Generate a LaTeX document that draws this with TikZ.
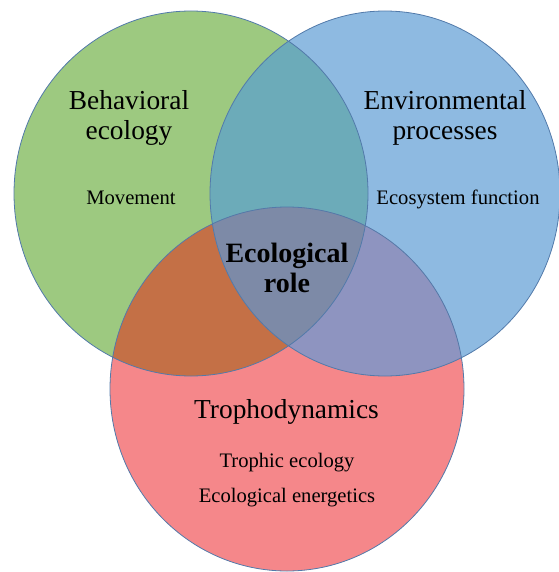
\documentclass[tikz,border=0pt]{standalone}
\usepackage{fontspec}
\setmainfont{Liberation Serif}
\usepackage{tikz}
\usetikzlibrary{positioning}

\definecolor{behfill}{RGB}{157,201,128}
\definecolor{envfill}{RGB}{142,186,225}
\definecolor{trofill}{RGB}{245,135,138}
\definecolor{behenv}{RGB}{108,171,185}
\definecolor{behtro}{RGB}{196,112,70}
\definecolor{envtro}{RGB}{142,148,192}
\definecolor{allsets}{RGB}{125,138,167}
\definecolor{rimcol}{RGB}{82,122,170}

\tikzset{
  rim/.style={draw=rimcol,line width=0.8pt},
  head/.style={font=\fontsize{27.4}{30}\selectfont,align=center},
  sub/.style={font=\fontsize{20.6}{35}\selectfont,align=center},
  core/.style={font=\bfseries\fontsize{28}{30}\selectfont,align=center}
}

% the three sets
\newcommand{\setBeh}{(191,193.5) ellipse [x radius=177, y radius=182.5]}
\newcommand{\setEnv}{(385,193.5) ellipse [x radius=175, y radius=182.5]}
\newcommand{\setTro}{(287,389) ellipse [x radius=177, y radius=182]}

\begin{document}
\begin{tikzpicture}[x=1pt,y=-1pt]

    \useasboundingbox (0,0) rectangle (558,572);

    \fill[behfill] \setBeh;
    \fill[envfill] \setEnv;
    \fill[trofill] \setTro;

    % overlaps
    \begin{scope}
        \clip \setBeh;
        \fill[behenv] \setEnv;
        \fill[behtro] \setTro;
    \end{scope}
    \begin{scope}
        \clip \setEnv;
        \fill[envtro] \setTro;
    \end{scope}
    \begin{scope}
        \clip \setBeh;
        \clip \setEnv;
        \fill[allsets] \setTro;
    \end{scope}

    \draw[rim] \setBeh;
    \draw[rim] \setEnv;
    \draw[rim] \setTro;

    \path
    (129,118) node[head] (beh) {Behavioral\\ecology}
    (131,197.5) node[sub] (mov) {Movement}
    (445,118) node[head] (env) {Environmental\\processes}
    (458,199) node[sub] (eco) {Ecosystem function}
    (287,268) node[core] (role) {Ecological\\role}
    (286.5,412) node[head] (tro) {Trophodynamics}
    (287,480) node[sub] (ene) {Trophic ecology\\Ecological energetics};

\end{tikzpicture}
\end{document}
